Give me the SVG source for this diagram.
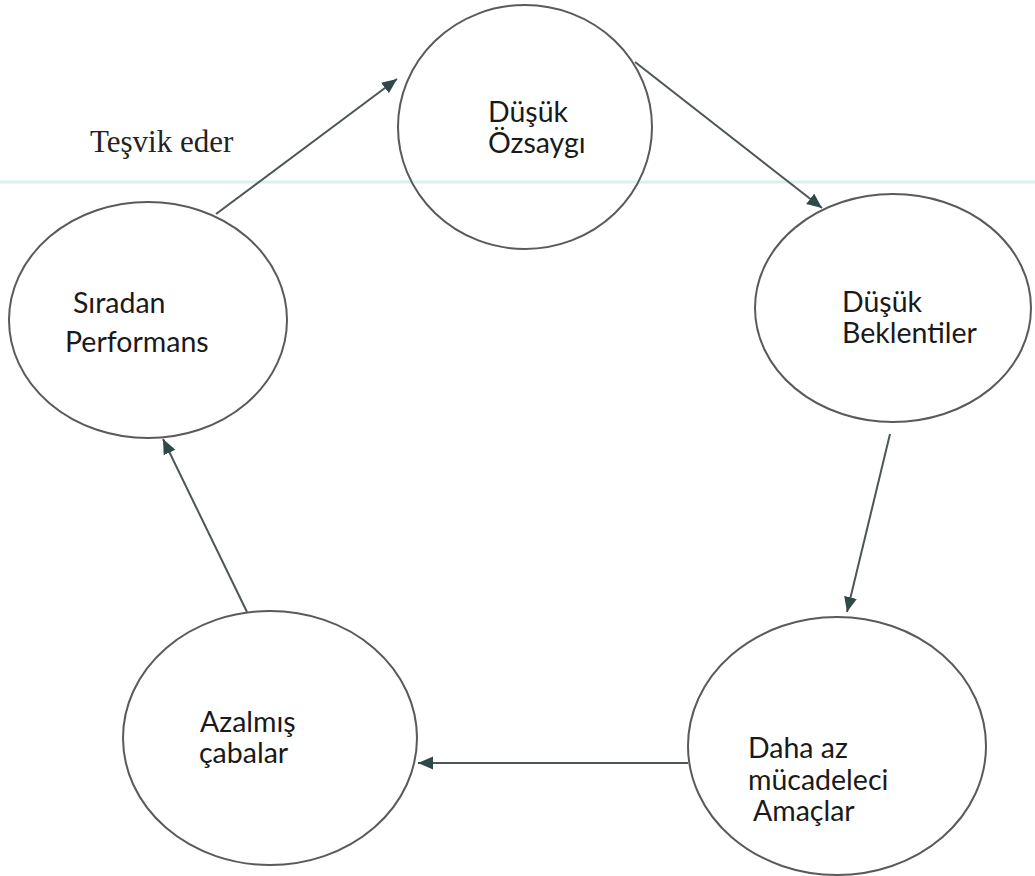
<svg xmlns="http://www.w3.org/2000/svg" width="1035" height="876" viewBox="0 0 1035 876">
<style>
.node ellipse{fill:none;stroke:#5a5a5a;stroke-width:2}
.node text{font-family:Lato,"Open Sans",sans-serif;font-size:28.5px;fill:#1a1a1a}
.conn line{stroke:#4d5656;stroke-width:2}
.lbl{font-family:"Liberation Serif","Times New Roman",serif;font-size:31px;fill:#222}
</style>
<defs>
<marker id="arr" markerUnits="userSpaceOnUse" markerWidth="16" markerHeight="14" refX="15" refY="6.5" orient="auto">
<path d="M0,0 L15,6.5 L0,13 Z" fill="#2f4848"/>
</marker>
</defs>
<rect width="1035" height="876" fill="#fff"/>
<line x1="0" y1="182" x2="1035" y2="182" stroke="#dcefee" stroke-width="3"/>
<g id="n-ozsaygi" class="node">
<ellipse cx="525" cy="127" rx="127" ry="122"/>
<text x="488" y="122">Düşük</text>
<text x="488" y="153">Özsaygı</text>
</g>
<g id="n-beklentiler" class="node">
<ellipse cx="893" cy="308" rx="138" ry="114"/>
<text x="842" y="312">Düşük</text>
<text x="842" y="343">Beklentiler</text>
</g>
<g id="n-amaclar" class="node">
<ellipse cx="837" cy="746" rx="149" ry="129"/>
<text x="748" y="758">Daha az</text>
<text x="748" y="790">mücadeleci</text>
<text x="753" y="821">Amaçlar</text>
</g>
<g id="n-cabalar" class="node">
<ellipse cx="270" cy="738" rx="147" ry="127"/>
<text x="200" y="732">Azalmış</text>
<text x="199" y="763">çabalar</text>
</g>
<g id="n-performans" class="node">
<ellipse cx="148" cy="320" rx="139" ry="118"/>
<text x="73" y="313">Sıradan</text>
<text x="65" y="352">Performans</text>
</g>
<g id="connectors" class="conn">
<line x1="216" y1="214" x2="397" y2="79" marker-end="url(#arr)"/>
<line x1="635" y1="62" x2="822" y2="208" marker-end="url(#arr)"/>
<line x1="890" y1="434" x2="847" y2="612" marker-end="url(#arr)"/>
<line x1="688" y1="763" x2="418" y2="763" marker-end="url(#arr)"/>
<line x1="247" y1="612" x2="163" y2="439" marker-end="url(#arr)"/>
</g>
<text class="lbl" x="90" y="152">Teşvik eder</text>
</svg>
